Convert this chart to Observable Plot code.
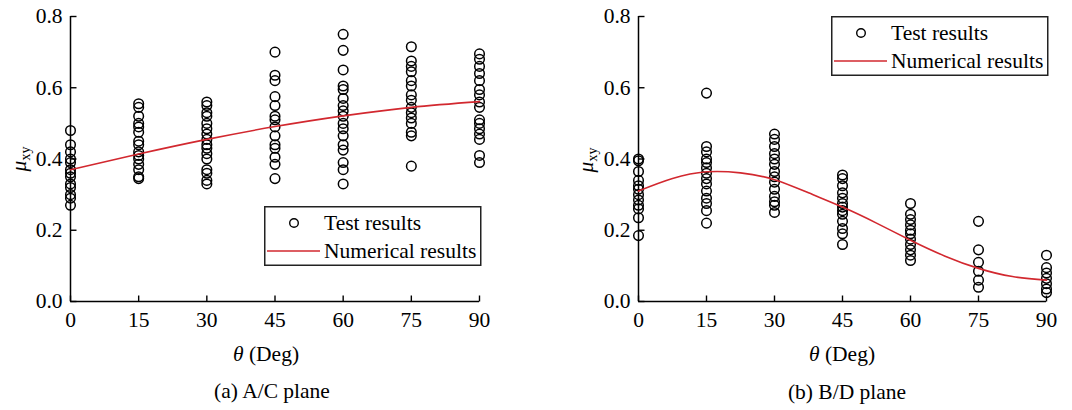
<!DOCTYPE html>
<html>
<head>
<meta charset="utf-8">
<script src="https://cdn.jsdelivr.net/npm/d3@7"></script>
<script src="https://cdn.jsdelivr.net/npm/@observablehq/plot@0.6"></script>
<style>
  html, body { margin: 0; padding: 0; background: #fff; }
  #root { position: relative; width: 1072px; height: 410px; overflow: hidden; font-family: "Liberation Serif", "Times New Roman", serif; color: #000; }
  .panel { position: absolute; top: 0; }
  .lbl { position: absolute; white-space: nowrap; font-size: 21.5px; transform: translate(-50%, -50%); line-height: 1; }
  .ylbl { position: absolute; white-space: nowrap; font-size: 21.5px; transform: translate(-50%, -50%) rotate(-90deg); line-height: 1; }
  .ylbl sub { font-size: 14px; vertical-align: -4px; }
  .legend { position: absolute; }
</style>
</head>
<body>
<div id="root"></div>
<script>
// ---- Data ----
const angles = [0, 15, 30, 45, 60, 75, 90];
const yTicks = [0, 0.2, 0.4, 0.6, 0.8];

// (a) A/C plane test results, one list per angle
const acTest = [
  [0.48, 0.44, 0.42, 0.40, 0.39, 0.37, 0.36, 0.35, 0.33, 0.32, 0.30, 0.29, 0.27],
  [0.555, 0.545, 0.52, 0.50, 0.49, 0.475, 0.45, 0.44, 0.42, 0.41, 0.40, 0.385, 0.37, 0.35, 0.345],
  [0.56, 0.55, 0.53, 0.52, 0.50, 0.485, 0.47, 0.455, 0.44, 0.43, 0.415, 0.40, 0.37, 0.36, 0.34, 0.33],
  [0.70, 0.635, 0.62, 0.575, 0.55, 0.52, 0.51, 0.49, 0.465, 0.44, 0.43, 0.405, 0.385, 0.345],
  [0.75, 0.705, 0.65, 0.605, 0.595, 0.57, 0.55, 0.535, 0.52, 0.50, 0.485, 0.465, 0.44, 0.425, 0.39, 0.37, 0.33],
  [0.715, 0.675, 0.66, 0.645, 0.62, 0.605, 0.58, 0.565, 0.545, 0.53, 0.515, 0.50, 0.475, 0.465, 0.38],
  [0.695, 0.68, 0.66, 0.64, 0.62, 0.595, 0.58, 0.56, 0.545, 0.51, 0.50, 0.485, 0.47, 0.455, 0.41, 0.39]
];
const acCurveX = [0, 15, 30, 45, 60, 75, 90];
const acCurveY = [0.37, 0.414, 0.455, 0.491, 0.521, 0.545, 0.561];

// (b) B/D plane test results, one list per angle
const bdTest = [
  [0.40, 0.395, 0.365, 0.34, 0.325, 0.315, 0.30, 0.285, 0.27, 0.26, 0.235, 0.185],
  [0.585, 0.435, 0.42, 0.40, 0.39, 0.375, 0.36, 0.345, 0.33, 0.31, 0.29, 0.275, 0.255, 0.22],
  [0.47, 0.455, 0.435, 0.415, 0.40, 0.385, 0.365, 0.35, 0.335, 0.315, 0.295, 0.28, 0.27, 0.25],
  [0.355, 0.345, 0.325, 0.305, 0.29, 0.275, 0.265, 0.255, 0.245, 0.225, 0.205, 0.19, 0.16],
  [0.275, 0.245, 0.23, 0.215, 0.20, 0.19, 0.175, 0.16, 0.145, 0.13, 0.115],
  [0.225, 0.145, 0.11, 0.085, 0.06, 0.04],
  [0.13, 0.095, 0.08, 0.065, 0.05, 0.035, 0.025]
];
const bdCurveX = [0, 7.5, 15, 22.5, 30, 37.5, 45, 52.5, 60, 67.5, 75, 82.5, 90];
const bdCurveY = [0.31, 0.345, 0.364, 0.361, 0.342, 0.305, 0.265, 0.22, 0.172, 0.128, 0.093, 0.07, 0.06];

const legendLabels = ["Test results", "Numerical results"];
const xTitle = "(Deg)";
const captions = ["(a) A/C plane", "(b) B/D plane"];

// ---- Helpers ----
const RED = "#d2282f";
const INK = "#000";
const flatten = (tests) => tests.flatMap((vals, i) => vals.map(v => ({x: angles[i], y: v})));
const zip = (xs, ys) => xs.map((x, i) => ({x, y: ys[i]}));
const tickUp = {draw(ctx) { ctx.moveTo(0, 0); ctx.lineTo(0, -6); }};
const tickRight = {draw(ctx) { ctx.moveTo(0, 0); ctx.lineTo(6, 0); }};

function panel({width, marginLeft, marginRight, test, curve}) {
  return Plot.plot({
    width, height: 410,
    marginLeft, marginRight, marginTop: 16, marginBottom: 109,
    x: {domain: [0, 90]},
    y: {domain: [0, 0.8]},
    style: {fontFamily: "Liberation Serif, Times New Roman, serif", fontSize: "21.5px", color: INK, background: "transparent", overflow: "visible"},
    marks: [
      Plot.axisX({ticks: angles, tickSize: 0, tickPadding: 10, label: null, tickFormat: d => String(d)}),
      Plot.axisY({ticks: yTicks, tickSize: 0, tickPadding: 8, label: null, tickFormat: d3.format(".1f")}),
      Plot.dot(angles, {x: d => d, y: 0, symbol: tickUp, stroke: INK, strokeWidth: 1.4, fill: "none", r: 6}),
      Plot.dot(yTicks, {x: 0, y: d => d, symbol: tickRight, stroke: INK, strokeWidth: 1.4, fill: "none", r: 6}),
      Plot.ruleX([0], {stroke: INK, strokeWidth: 1.5}),
      Plot.ruleY([0], {stroke: INK, strokeWidth: 1.5}),
      Plot.dot(flatten(test), {x: "x", y: "y", r: 4.8, stroke: INK, strokeWidth: 1.5, fill: "none"}),
      Plot.line(curve, {x: "x", y: "y", stroke: RED, strokeWidth: 1.6, curve: "natural"})
    ]
  });
}

function legend(left, top) {
  const ns = "http://www.w3.org/2000/svg";
  const svg = document.createElementNS(ns, "svg");
  svg.setAttribute("width", 220); svg.setAttribute("height", 62);
  svg.setAttribute("class", "legend");
  svg.style.left = left + "px"; svg.style.top = top + "px";
  svg.innerHTML = `
    <rect x="0.75" y="0.75" width="216" height="58.5" fill="#fff" stroke="#222" stroke-width="1.5"/>
    <circle cx="30" cy="17" r="4.3" fill="none" stroke="${INK}" stroke-width="1.4"/>
    <line x1="3" x2="56" y1="45" y2="45" stroke="${RED}" stroke-width="1.6"/>
    <text x="60" y="24" font-family="Liberation Serif, Times New Roman, serif" font-size="21.5" fill="${INK}">${legendLabels[0]}</text>
    <text x="60" y="52" font-family="Liberation Serif, Times New Roman, serif" font-size="21.5" fill="${INK}">${legendLabels[1]}</text>`;
  return svg;
}

function addLabel(root, cls, html, x, y) {
  const d = document.createElement("div");
  d.className = cls; d.innerHTML = html;
  d.style.left = x + "px"; d.style.top = y + "px";
  root.appendChild(d);
}

const root = document.getElementById("root");

const left = panel({width: 540, marginLeft: 70, marginRight: 61, test: acTest, curve: zip(acCurveX, acCurveY)});
const leftWrap = document.createElement("div");
leftWrap.className = "panel"; leftWrap.style.left = "0px";
leftWrap.appendChild(left); root.appendChild(leftWrap);

const right = panel({width: 532, marginLeft: 98, marginRight: 26, test: bdTest, curve: zip(bdCurveX, bdCurveY)});
const rightWrap = document.createElement("div");
rightWrap.className = "panel"; rightWrap.style.left = "540px";
rightWrap.appendChild(right); root.appendChild(rightWrap);

root.appendChild(legend(264, 206));
root.appendChild(legend(831, 16));

addLabel(root, "ylbl", "<i>μ</i><sub>xy</sub>", 21, 159);
addLabel(root, "ylbl", "<i>μ</i><sub>xy</sub>", 588, 160);
addLabel(root, "lbl", "<i>θ</i> " + xTitle, 266, 355);
addLabel(root, "lbl", "<i>θ</i> " + xTitle, 842, 355);
addLabel(root, "lbl", captions[0], 272, 392);
addLabel(root, "lbl", captions[1], 847, 393);
</script>
</body>
</html>
